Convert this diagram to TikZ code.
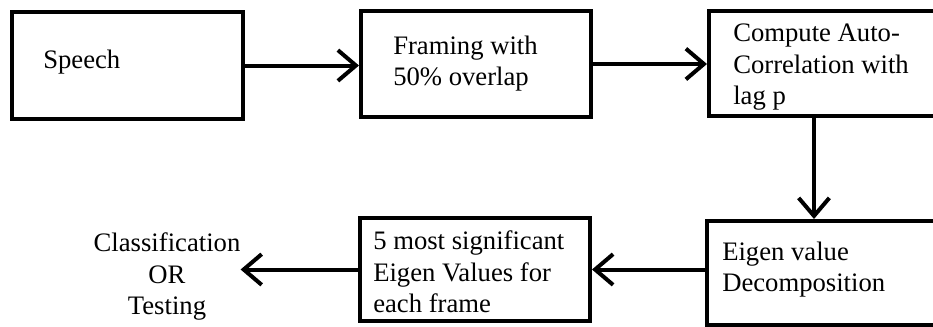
\documentclass[tikz,border=0pt]{standalone}
\usepackage{fontspec}
\setmainfont{Liberation Serif}
\usetikzlibrary{arrows.meta}
\begin{document}
\begin{tikzpicture}[x=0.75pt,y=-0.75pt,
  boxnode/.style={draw=black,line width=3pt,rectangle,inner sep=0pt},
  txt/.style={font=\fontsize{20}{23.5}\selectfont,align=left,inner sep=0pt,anchor=west},
  flow/.style={line width=3pt,-{Straight Barb[length=13.5pt,width=23pt,line width=3pt]}}]
\clip (0,0) rectangle (933,326);
\fill[white] (0,0) rectangle (933,326);
% boxes
\node[boxnode,minimum width=231*0.75pt,minimum height=107*0.75pt] (b1) at (127.5,65.5) {};
\node[boxnode,minimum width=230*0.75pt,minimum height=106*0.75pt] (b2) at (476,64) {};
\node[boxnode,minimum width=234*0.75pt,minimum height=105*0.75pt] (b3) at (826,63.5) {};
\node[boxnode,minimum width=236*0.75pt,minimum height=104*0.75pt] (b4) at (825,273) {};
\node[boxnode,minimum width=230*0.75pt,minimum height=103*0.75pt] (b5) at (475,269.5) {};
% texts
\node[txt] (t1) at (43,61.75) {Speech};
\node[txt] (t2) at (393,63.75) {Framing with\\50\% overlap};
\node[txt] (t3) at (733,67.25) {Compute Auto-\\Correlation with\\lag p};
\node[txt] (t4) at (722,269.3) {Eigen value\\Decomposition};
\node[txt] (t5) at (373,271.8) {5 most significant\\Eigen Values for\\each frame};
\node[txt,align=center,anchor=center] (cls) at (167,276.75) {Classification\\OR\\Testing};
\coordinate (vx) at (814,0);
% connectors
\draw[flow] (b1.east) -- (b1.east -| b2.west);
\draw[flow] (b2.east) -- (b2.east -| b3.west);
\draw[flow] (b3.south -| vx) -- (b4.north -| vx);
\draw[flow] (b5.east -| b4.west) -- (b5.east);
\draw[flow] (b5.west) -- (b5.west -| cls.east);
\end{tikzpicture}
\end{document}
